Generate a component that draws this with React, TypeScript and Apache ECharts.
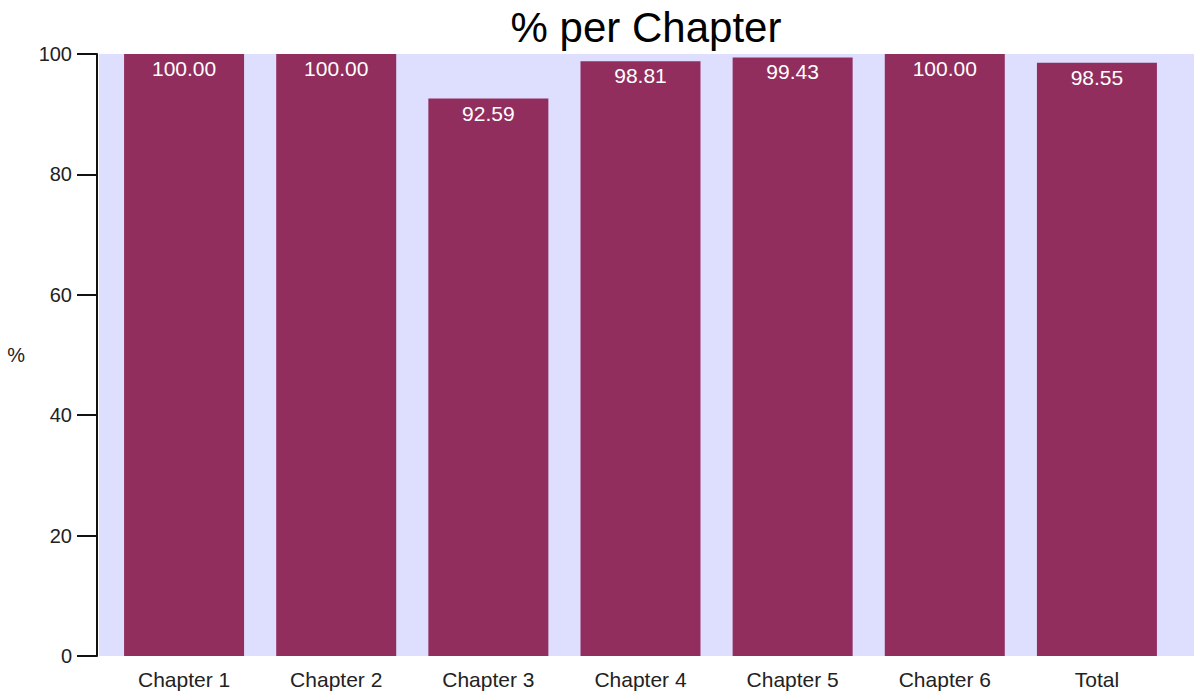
import React, { useEffect, useRef } from "react";
import * as echarts from "echarts";

const categories = ["Chapter 1", "Chapter 2", "Chapter 3", "Chapter 4", "Chapter 5", "Chapter 6", "Total"];
const percentValues = [100, 100, 92.59, 98.81, 99.43, 100, 98.55];
const yTicks = { min: 0, max: 100, interval: 20 };
const titleText = "% per Chapter";
const yAxisName = "%";

const FONT = "'Liberation Sans', Arial, sans-serif";

export default function App() {
  const ref = useRef<HTMLDivElement>(null);
  useEffect(() => {
    document.body.style.margin = "0";
    const chart = echarts.init(ref.current!, null, { renderer: "svg" });
    chart.setOption({
      animation: false,
      backgroundColor: "#ffffff",
      title: {
        text: titleText,
        left: 641,
        textAlign: "center",
        top: 1,
        textStyle: { fontFamily: FONT, fontSize: 42, fontWeight: "normal", color: "#000" },
      },
      graphic: [
        {
          type: "rect",
          z: -10,
          silent: true,
          shape: { x: 99, y: 54, width: 1095, height: 602 },
          style: { fill: "#DEDEFE" },
        },
      ],
      grid: { left: 108, right: 21, top: 54, bottom: 40, containLabel: false },
      xAxis: {
        type: "category",
        data: categories,
        axisLine: { show: false },
        axisTick: { show: false },
        axisLabel: { margin: 13, fontFamily: FONT, fontSize: 21, color: "#222" },
      },
      yAxis: {
        type: "value",
        min: yTicks.min,
        max: yTicks.max,
        interval: yTicks.interval,
        offset: 11,
        name: yAxisName,
        nameLocation: "middle",
        nameRotate: 0,
        nameGap: 72,
        nameTextStyle: { fontFamily: FONT, fontSize: 20, color: "#222" },
        axisLine: { show: true, lineStyle: { color: "#111", width: 2 } },
        axisTick: { show: true, length: 20, lineStyle: { color: "#111", width: 2 } },
        axisLabel: { margin: 25, fontFamily: FONT, fontSize: 20, color: "#222" },
        splitLine: { show: false },
      },
      series: [
        {
          type: "bar",
          data: percentValues,
          barWidth: 120,
          itemStyle: { color: "#922E5E" },
          label: {
            show: true,
            position: "insideTop",
            distance: 4,
            color: "#ffffff",
            fontFamily: FONT,
            fontSize: 21,
            formatter: (p: any) => Number(p.value).toFixed(2),
          },
        },
      ],
    });
    return () => chart.dispose();
  }, []);
  return <div ref={ref} style={{ width: 1194, height: 696 }} />;
}
